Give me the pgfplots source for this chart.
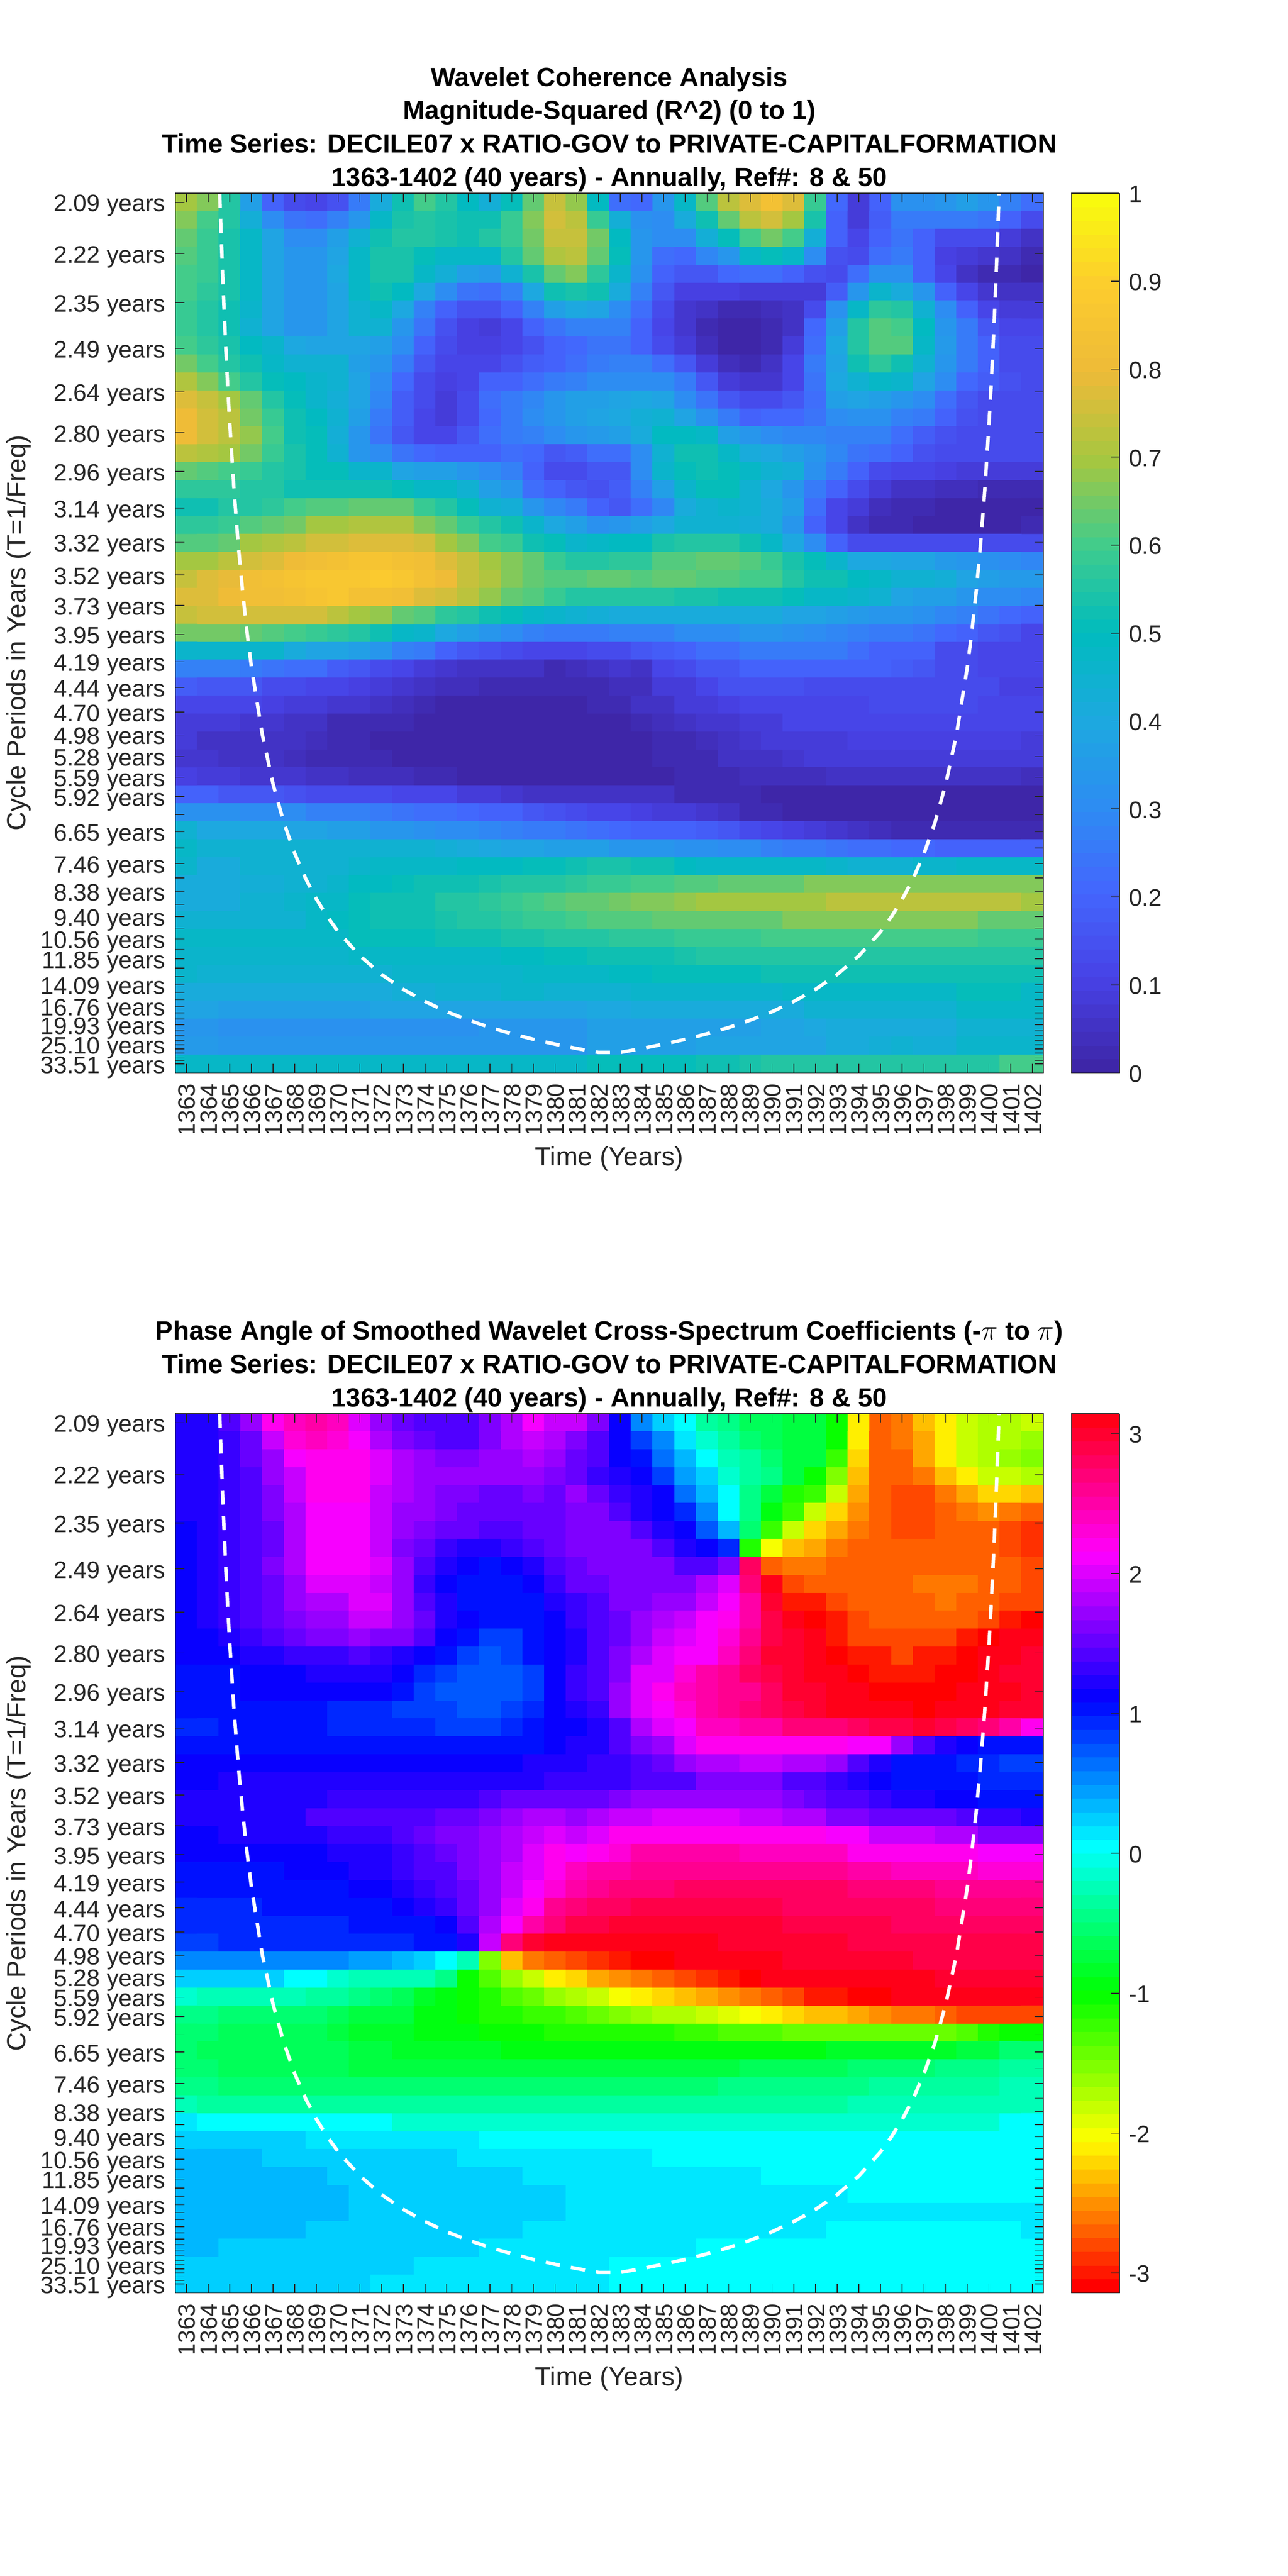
\documentclass[border=0pt]{standalone}
\usepackage{pgfplots}
\pgfplotsset{compat=1.18}
\usepackage{fontspec}
\setmainfont{Liberation Sans}
\definecolor{axc}{gray}{0.15}
\pgfplotsset{
 colormap={myparula}{rgb=(.2422,.1504,.6603) rgb=(.2783,.2559,.8991) rgb=(.265,.40,.993) rgb=(.1764,.5499,.952) rgb=(.1113,.6635,.8763) rgb=(0,.735,.745) rgb=(.25,.80,.55) rgb=(.65,.78,.25) rgb=(.93,.73,.22) rgb=(.99,.80,.18) rgb=(.976,.983,.054)},
 colormap={par64}{samples of colormap=(64 of myparula)},
 colormap={myhsv}{rgb(0pt)=(1,0,0) rgb(32pt)=(1,1,0) rgb(64pt)=(0,1,0) rgb(96pt)=(0,1,1) rgb(128pt)=(0,0,1) rgb(160pt)=(1,0,1) rgb(189pt)=(1,0,.09375)},
 colormap={hsv64}{samples of colormap=(64 of myhsv)},
 heat/.style={
  scale only axis, width=526.5pt, enlargelimits=false, axis on top,
  xmin=0.5, xmax=40.5, ymin=-0.5, ymax=48.5, y dir=reverse,
  colormap access=piecewise constant,
  axis line style={draw=axc,line width=0.5pt},
  tick style={draw=axc,line width=0.5pt},
  tick align=inside, tick pos=both, major tick length=5.4pt, minor tick num=0,
  xtick={1,...,40},
  xticklabels={1363,1364,1365,1366,1367,1368,1369,1370,1371,1372,1373,1374,1375,1376,1377,1378,1379,1380,1381,1382,1383,1384,1385,1386,1387,1388,1389,1390,1391,1392,1393,1394,1395,1396,1397,1398,1399,1400,1401,1402},
  xticklabel pos=lower, yticklabel pos=left,
  xticklabel style={yshift=-6.3pt,xshift=0.4pt,rotate=90,anchor=east,inner sep=0pt,text=axc,font=\fontsize{14.5pt}{14.5pt}\selectfont},
  ytick={0,2.874,5.586,8.146,10.562,12.843,14.996,17.028,18.946,20.756,22.465,24.078,25.6,27.037,28.393,29.673,30.881,32.022,33.098,34.114,35.073,35.978,36.833,37.639,38.4,39.118,39.797,40.437,41.04,41.611,42.149,42.657,43.136,43.589,44.016,44.42,44.8,45.159,45.498,45.818,46.12,46.406,46.674,46.928,47.168,47.394,47.608,47.81,48},
  yticklabels={2.09 years,2.22 years,2.35 years,2.49 years,2.64 years,2.80 years,2.96 years,3.14 years,3.32 years,3.52 years,3.73 years,3.95 years,4.19 years,4.44 years,4.70 years,4.98 years,5.28 years,5.59 years,5.92 years,{},6.65 years,{},7.46 years,{},8.38 years,{},9.40 years,{},10.56 years,{},11.85 years,{},{},14.09 years,{},{},16.76 years,{},{},19.93 years,{},{},{},25.10 years,{},{},{},{},33.51 years},
  yticklabel style={anchor=east,inner sep=0pt,xshift=-6pt,yshift=-2.15pt,text=axc,font=\fontsize{14.5pt}{14.5pt}\selectfont},
 },
 cb/.style={
  colorbar sampled,
  colorbar style={samples=65, width=29.25pt, at={(1.03229,1)}, anchor=north west, scale only axis,
   colormap access=piecewise constant,
   axis line style={draw=axc,line width=0.5pt}, tick style={draw=axc,line width=0.5pt},
   ytick pos=right, yticklabel pos=right, tick align=inside, major tick length=5.2pt,
   yticklabel style={anchor=west,inner sep=0pt,xshift=5.5pt,yshift=-0.6pt,text=axc,font=\fontsize{14.5pt}{14.5pt}\selectfont},
   #1},
 },
}
\newcount\cc \newcount\rr
\def\flatloop#1 {\if;#1\else
  \edef\flatout{\unexpanded\expandafter{\flatout}\the\cc\space\the\rr\space#1\noexpand\\}%
  \advance\cc by 1 \ifnum\cc>40 \cc=1 \advance\rr by 1 \fi
  \expandafter\flatloop\fi}
\def\flatten#1#2{\def\flatout{}\cc=1 \rr=0 \expandafter\flatloop#1; \let#2\flatout}
\def\cohdata{%
70 66 56 36 20 14 12 15 25 42  53 60 55 49 43 50 63 74 68 49  22 21 33 48 62 72 78 83 77 58  21 9 20 32 32 33 36 34 27 22
66 60 55 43 30 24 22 27 33 47  54 56 54 53 52 58 66 75 73 58  43 32 31 42 52 64 73 76 70 54  19 8 18 25 26 26 26 24 19 13
64 58 54 47 38 31 31 36 45 52  56 55 54 53 55 59 65 74 74 65  49 34 30 31 43 50 60 65 60 43  19 12 19 24 19 14 13 13 8 6
62 58 54 47 38 33 33 38 48 54  54 50 48 47 48 55 63 71 72 63  51 34 22 21 29 34 47 50 48 31  15 14 22 25 19 10 8 7 5 3
60 58 54 48 38 33 33 40 48 54  54 48 43 37 35 45 54 63 67 57  46 32 19 16 17 21 22 23 20 15  14 23 32 32 20 11 6 3 3 1
60 57 54 48 38 33 33 39 47 53  49 40 30 24 22 28 40 52 54 52  42 27 16 10 10 10 9 9 8 8  18 33 46 42 33 20 12 7 5 5
58 56 53 46 38 33 34 38 45 47  40 28 20 15 15 19 28 37 40 38  31 22 13 7 5 3 3 4 5 13  32 47 57 55 44 30 19 12 9 9
58 55 53 44 38 33 34 38 44 44  34 24 15 10 9 12 19 24 27 28  28 20 12 7 3 1 1 2 6 21  36 55 61 60 49 34 25 17 12 12
60 57 54 49 46 40 38 38 38 37  30 19 13 10 10 12 15 19 21 24  24 19 14 9 4 1 0 2 8 22  40 55 62 61 48 35 26 19 14 14
65 60 55 53 47 45 44 44 36 33  25 16 11 12 12 15 18 20 23 26  28 27 22 16 8 4 2 5 12 26  39 52 57 53 45 33 26 20 14 14
71 66 60 55 51 49 46 44 38 31  21 14 10 11 19 19 23 25 27 30  30 30 31 26 17 9 7 7 12 24  40 45 47 46 38 30 21 18 15 14
77 74 70 63 55 50 46 43 38 29  18 13 9 13 22 26 29 34 36 36  38 40 39 31 24 17 14 14 17 23  37 38 37 34 30 22 17 14 14 14
81 76 72 65 59 53 49 44 37 26  18 11 9 14 21 25 30 34 37 38  40 43 45 38 32 25 20 21 21 24  30 32 32 28 25 19 15 14 13 13
80 75 72 68 60 53 50 43 33 24  17 11 11 16 22 26 28 31 33 35  36 42 49 49 47 37 33 31 29 29  28 28 27 23 18 15 14 13 14 14
73 71 69 65 58 54 50 45 33 30  24 21 19 19 20 22 21 17 18 23  22 31 44 52 52 47 42 40 36 33  29 24 22 19 15 14 13 13 13 13
63 62 60 58 55 54 51 50 46 46  39 37 36 33 30 28 20 14 13 16  17 31 46 51 53 50 47 44 43 32  25 20 14 12 12 10 9 9 9 9
57 57 57 56 56 52 53 53 53 52  50 48 48 45 37 33 22 19 16 15  18 27 37 46 51 50 45 40 34 26  19 13 8 6 6 4 4 3 2 2
53 53 55 56 57 60 62 62 63 63  63 58 55 50 45 43 33 29 25 20  17 22 29 42 45 46 44 42 36 22  12 8 4 2 2 1 1 0 0 0
57 57 59 62 64 65 69 69 71 71  71 67 63 59 55 52 46 40 37 32  34 37 40 44 45 45 43 41 33 20  12 6 3 2 1 1 1 1 1 3
62 61 63 69 71 73 76 76 77 77  77 75 70 67 60 58 52 51 46 47  49 49 54 55 55 55 53 47 40 31  20 14 14 13 13 13 14 14 14 14
70 70 73 76 77 80 82 84 85 85  84 82 78 74 70 66 63 59 56 56  57 57 61 61 63 63 62 58 54 50  46 40 40 39 38 35 33 32 30 29
74 78 79 82 84 85 86 86 87 88  87 84 80 74 71 67 64 62 62 64  63 62 63 63 62 62 60 60 55 53  52 49 48 45 44 43 39 37 35 35
78 78 80 82 82 84 85 86 83 83  82 78 75 72 68 64 61 58 56 55  55 55 55 54 54 53 53 52 50 48  47 46 44 38 37 36 34 31 30 29
74 76 76 75 75 75 75 73 70 68  64 61 57 55 52 50 47 46 45 43  42 42 42 42 42 42 42 41 39 38  36 35 34 33 32 29 27 24 21 19
65 65 65 63 62 60 58 57 55 53  48 46 40 36 33 30 27 26 25 26  27 27 27 30 31 30 33 34 32 31  29 27 25 25 24 21 20 17 15 12
46 46 46 46 46 42 39 38 36 33  27 25 20 17 15 14 12 12 11 13  14 16 18 20 22 22 25 25 25 25  25 22 20 20 19 14 14 12 12 11
28 27 27 25 24 22 22 18 17 13  11 8 7 6 5 5 5 3 4 5  7 5 12 14 17 17 19 19 20 20  20 19 19 18 17 14 13 12 12 12
18 17 17 16 14 13 12 11 10 8  7 5 4 4 3 2 2 2 2 3  4 4 8 9 12 15 15 15 15 14  14 13 13 13 13 13 13 13 10 10
12 12 12 12 10 9 8 7 7 5  4 3 1 1 0 0 0 0 1 2  2 5 5 8 9 10 11 11 12 12  12 12 13 13 13 13 13 12 12 12
8 8 8 7 7 6 5 3 3 2  2 1 1 0 0 0 0 0 1 1  1 3 4 5 7 7 9 9 11 11  11 11 12 12 12 12 12 12 12 12
8 6 6 5 5 5 4 3 2 1  0 0 0 0 0 0 0 0 0 0  1 1 3 3 4 6 7 8 8 9  9 10 10 10 10 10 10 10 10 9
7 7 5 5 5 4 3 2 2 2  1 0 0 0 0 0 0 0 0 0  0 0 2 3 3 5 6 6 7 8  8 8 8 8 9 9 9 9 8 8
10 9 9 7 7 7 5 5 4 4  4 3 3 1 1 1 1 0 0 0  0 0 0 2 3 3 4 4 4 4  5 6 6 6 6 6 6 6 6 4
20 19 17 16 16 15 14 14 13 13  12 11 11 9 8 7 6 5 5 6  5 5 5 2 2 2 2 1 1 1  1 1 1 1 1 1 1 1 0 0
32 32 32 30 30 30 27 27 27 25  24 23 22 21 20 19 17 15 13 12  12 10 9 8 7 5 3 2 1 1  1 0 0 0 0 0 0 0 0 0
45 40 40 40 40 38 38 37 36 34  33 32 31 30 29 28 26 26 24 23  21 20 20 19 18 17 14 12 10 9  7 5 4 3 3 3 3 3 3 3
47 45 45 45 45 45 45 45 45 45  45 44 43 41 40 38 38 37 36 36  34 33 33 32 32 30 30 28 26 25  24 22 22 21 21 20 20 20 20 20
46 42 42 44 45 45 45 45 46 47  47 48 48 49 49 49 50 51 52 54  54 53 52 49 48 47 47 47 47 47  46 45 45 45 46 46 47 48 48 48
42 41 41 43 43 44 45 46 49 49  50 52 53 53 54 55 55 55 57 58  58 60 60 62 62 64 64 64 64 67  67 67 67 67 67 67 67 67 67 67
42 42 42 44 44 46 47 48 51 52  52 53 55 56 57 58 60 61 63 64  65 66 67 68 69 69 69 70 70 70  72 72 72 72 72 72 72 72 72 70
45 45 45 45 45 45 47 49 51 52  52 53 54 55 55 57 58 59 60 61  62 62 63 63 64 64 64 64 66 66  66 66 66 66 66 66 66 64 64 64
47 47 47 47 47 47 47 48 50 50  51 51 52 53 53 54 54 55 55 56  57 57 57 58 58 58 58 60 60 60  60 60 60 60 60 60 60 58 58 58
46 46 46 46 46 46 46 46 47 47  47 47 47 47 48 49 49 50 51 52  52 52 52 54 55 55 55 56 56 56  56 56 56 56 56 56 56 55 55 55
46 44 44 44 44 44 44 44 45 45  46 46 46 46 46 46 47 47 48 48  49 49 50 50 50 50 50 52 52 52  52 52 52 52 52 52 52 52 52 52
42 42 42 42 42 42 42 42 42 42  43 43 44 45 45 46 46 45 45 44  45 46 46 46 46 46 46 46 47 47  48 48 48 48 48 48 50 50 50 48
38 38 36 36 36 36 36 36 37 38  38 38 38 38 38 38 38 39 39 40  40 41 41 41 41 41 41 41 42 45  45 45 45 45 45 45 47 47 47 47
34 34 32 32 32 32 32 32 32 32  32 32 32 32 33 33 33 33 33 36  37 37 37 37 37 37 37 38 39 40  42 42 42 42 42 42 44 45 45 45
35 35 34 34 34 34 34 34 34 34  34 34 34 34 34 34 34 34 34 37  37 37 37 37 38 38 39 39 39 39  41 41 43 44 43 43 46 46 46 46
47 47 47 47 47 47 47 47 47 47  47 47 47 47 47 47 47 47 48 50  50 50 50 50 53 53 54 55 56 56  56 56 56 56 56 56 56 56 60 60
}
\def\phasedata{%
12 12 14 17 22 24 25 24 20 17  15 14 14 14 16 18 21 19 19 16  11 5 2 0 -3 -4 -6 -6 -7 -7  -10 -21 -27 -26 -23 -21 -18 -17 -17 -18
12 12 13 15 19 23 24 23 21 18  16 15 14 14 16 18 19 18 16 14  11 8 5 1 -1 -3 -5 -6 -7 -7  -10 -21 -27 -26 -24 -21 -18 -17 -17 -16
12 12 13 15 17 21 22 22 22 20  18 17 16 16 17 17 18 17 15 14  11 10 6 3 0 -2 -3 -5 -7 -7  -12 -22 -27 -27 -24 -21 -18 -17 -16 -15
12 12 13 14 17 19 22 22 22 20  18 17 17 17 17 17 17 16 15 13  12 11 8 4 2 -1 -3 -4 -7 -10  -15 -23 -27 -27 -26 -23 -21 -18 -18 -17
12 12 13 14 16 19 22 22 22 19  18 17 16 16 15 15 16 15 17 15  13 12 11 6 3 0 -4 -7 -11 -12  -18 -24 -27 -28 -28 -26 -24 -22 -22 -23
12 12 13 14 16 18 21 21 21 19  17 17 16 15 15 15 15 15 16 16  14 12 11 9 5 0 -4 -9 -12 -18  -22 -25 -27 -28 -28 -27 -26 -25 -26 -27
11 12 13 14 15 18 21 21 21 19  17 16 15 15 14 14 15 15 16 16  16 14 12 11 7 3 -5 -12 -18 -22  -24 -26 -27 -28 -28 -27 -27 -27 -28 -29
11 12 13 14 15 18 21 21 21 19  16 15 13 12 12 13 14 15 16 16  16 16 14 12 11 9 -11 -20 -23 -24  -26 -27 -27 -27 -27 -27 -27 -27 -28 -29
11 12 13 14 16 18 21 21 21 20  17 14 12 11 10 11 12 14 15 16  16 16 16 14 14 16 28 -27 -26 -26  -27 -27 -27 -27 -27 -27 -27 -27 -27 -28
11 12 13 14 15 17 20 20 20 19  17 13 11 10 10 10 11 13 15 15  16 16 16 16 18 20 27 31 -28 -27  -27 -27 -27 -27 -26 -26 -26 -27 -27 -28
11 12 13 14 15 17 18 18 20 20  17 14 12 10 10 10 10 12 13 14  16 16 17 17 19 21 25 30 -30 -30  -28 -27 -27 -27 -27 -26 -27 -27 -28 -28
11 12 13 14 15 16 17 17 19 19  17 15 12 11 10 10 10 11 13 14  15 17 18 19 21 22 25 29 31 -31  -30 -28 -27 -27 -27 -27 -27 -28 -30 -31
11 11 12 13 14 15 16 16 17 16  16 14 11 10 8 8 10 11 12 14  15 17 19 20 21 23 26 29 30 31  -30 -28 -28 -28 -28 -28 -30 -31 31 31
11 11 11 12 12 13 13 13 14 13  12 11 10 8 7 8 10 11 12 14  16 18 20 21 21 24 27 30 30 31  -31 -30 -30 -28 -30 -30 -31 31 31 30
10 10 10 11 11 11 12 12 12 12  11 9 8 7 7 7 8 11 13 14  16 20 20 23 25 26 28 29 30 31  31 -31 -30 -30 -30 -31 -31 31 30 30
10 10 10 11 11 11 11 11 11 11  10 8 7 7 7 7 8 11 13 14  17 20 22 24 25 26 26 28 30 30  31 31 -31 -31 -31 -31 31 31 31 30
10 10 10 10 10 10 10 9 9 9  8 8 8 7 7 8 9 11 12 13  17 20 21 23 25 26 27 28 29 30  31 31 31 31 -31 31 31 31 30 30
9 9 10 10 10 10 10 9 9 9  9 9 8 8 8 9 10 11 11 12  14 18 20 21 24 24 25 25 27 27  27 28 29 29 30 29 28 27 25 22
10 10 10 10 10 10 10 10 10 10  10 10 10 10 10 10 10 11 12 12  14 16 17 20 22 22 22 22 22 22  22 21 21 17 14 12 11 10 10 10
11 11 11 11 11 11 11 11 11 11  11 11 11 11 11 11 12 12 12 13  13 14 15 17 18 18 19 19 18 18  17 14 12 10 10 10 9 9 8 8
11 11 12 12 12 12 12 12 12 12  12 12 12 12 12 12 12 13 13 13  13 14 14 14 16 16 16 16 14 14  13 12 11 10 10 10 10 9 9 9
12 12 12 12 12 12 12 13 13 13  13 13 13 13 14 15 15 15 15 15  16 17 17 17 17 17 17 17 16 15  14 14 13 12 12 11 11 10 10 10
12 12 12 12 12 12 14 14 14 14  14 14 15 15 16 17 18 18 17 18  19 19 20 20 20 20 19 19 18 18  16 16 15 15 15 15 14 13 13 12
11 11 12 12 12 12 12 13 13 13  14 15 16 16 17 18 19 20 19 20  22 22 22 22 22 22 22 22 22 22  21 21 19 19 19 18 18 16 16 16
11 11 11 11 11 11 11 12 12 12  13 14 15 16 17 18 20 22 21 22  23 25 25 25 25 25 24 24 24 24  24 22 22 22 22 22 22 21 21 21
10 10 10 10 10 11 11 11 12 12  13 14 14 16 17 19 20 22 24 25  25 26 26 26 26 26 26 26 26 26  26 25 25 24 24 24 24 23 23 23
10 10 10 10 10 10 10 10 11 11  12 13 14 15 17 19 21 23 25 26  27 27 27 28 28 28 28 28 28 28  28 27 27 27 27 26 26 26 26 26
9 9 9 9 10 10 10 10 10 10  11 12 13 15 17 20 22 26 27 28  28 29 29 29 29 29 29 29 28 28  28 28 28 28 28 27 27 27 27 27
9 9 9 9 9 9 9 9 10 10  10 10 11 14 18 21 25 27 29 29  30 30 30 30 30 30 30 30 29 29  29 29 29 28 28 28 28 28 28 28
8 8 9 9 9 9 9 9 9 9  9 10 10 12 19 27 30 31 31 31  31 31 31 31 31 30 30 30 30 30  30 29 29 29 29 29 29 29 29 29
5 5 5 5 5 5 5 5 4 4  3 2 0 -2 -15 -23 -26 -27 -28 -29  -30 -31 -31 31 31 31 31 31 30 30  30 30 30 30 29 29 29 29 29 29
2 2 2 2 2 0 0 -1 -2 -2  -2 -2 -4 -10 -13 -16 -18 -21 -22 -24  -25 -26 -27 -28 -29 -30 -31 31 31 31  31 31 31 31 31 30 30 30 30 30
-1 -2 -2 -2 -2 -2 -3 -3 -4 -5  -6 -8 -9 -10 -11 -13 -14 -16 -17 -18  -20 -21 -22 -23 -24 -25 -26 -27 -28 -30  -30 -31 -31 31 31 31 31 31 31 31
-4 -4 -5 -5 -5 -5 -5 -6 -7 -7  -7 -9 -9 -10 -11 -11 -12 -12 -13 -14  -15 -16 -17 -17 -18 -19 -20 -21 -22 -23  -23 -24 -25 -26 -26 -27 -28 -28 -28 -28
-5 -5 -6 -6 -6 -6 -6 -7 -8 -8  -8 -9 -9 -9 -10 -10 -10 -11 -11 -11  -11 -11 -11 -12 -12 -13 -13 -13 -14 -14  -14 -14 -14 -14 -14 -14 -13 -11 -10 -10
-5 -6 -6 -6 -6 -6 -6 -6 -7 -7  -8 -8 -8 -8 -8 -9 -9 -9 -9 -9  -9 -9 -9 -9 -9 -9 -9 -9 -9 -9  -8 -8 -8 -8 -8 -8 -7 -7 -5 -5
-5 -5 -6 -6 -6 -6 -6 -6 -7 -7  -7 -7 -7 -7 -7 -7 -7 -7 -7 -7  -7 -7 -7 -7 -7 -7 -6 -6 -6 -6  -6 -5 -5 -5 -5 -4 -4 -4 -3 -3
-4 -4 -5 -5 -5 -5 -5 -5 -5 -5  -5 -5 -5 -5 -5 -5 -5 -5 -5 -5  -5 -5 -5 -5 -5 -4 -4 -4 -4 -4  -4 -4 -3 -3 -3 -3 -3 -3 -2 -2
-2 -3 -3 -3 -3 -3 -3 -3 -3 -3  -3 -3 -3 -3 -3 -3 -3 -3 -3 -3  -3 -3 -3 -3 -3 -3 -3 -3 -3 -3  -3 -2 -2 -2 -2 -2 -2 -2 -2 -2
1 0 0 0 0 0 0 0 0 0  -1 -1 -1 -1 -1 -1 -1 -1 -1 -1  -1 -1 -1 -1 -1 -1 -1 -1 -1 -1  -1 -1 -1 -1 -1 -1 -1 -1 0 0
2 2 2 2 2 2 1 1 1 1  1 1 1 1 0 0 0 0 0 0  0 0 0 0 0 0 0 0 0 0  0 0 0 0 0 0 0 0 0 0
3 3 3 3 2 2 2 2 2 2  2 2 2 1 1 1 1 1 1 1  1 1 0 0 0 0 0 0 0 0  0 0 0 0 0 0 0 0 0 0
3 3 3 3 3 3 3 2 2 2  2 2 2 2 2 2 1 1 1 1  1 1 1 1 1 1 1 0 0 0  0 0 0 0 0 0 0 0 0 0
3 3 3 3 3 3 3 3 2 2  2 2 2 2 2 2 2 2 1 1  1 1 1 1 1 1 1 1 1 1  1 0 0 0 0 0 0 0 0 0
3 3 3 3 3 3 3 3 2 2  2 2 2 2 2 2 2 2 1 1  1 1 1 1 1 1 1 1 1 1  1 1 1 1 1 1 1 1 1 1
3 3 3 3 3 3 2 2 2 2  2 2 2 2 2 2 1 1 1 1  1 1 1 1 1 1 1 1 1 1  0 0 0 0 0 0 0 0 0 1
3 3 2 2 2 2 2 2 2 2  2 2 2 2 1 1 1 1 1 1  1 1 1 1 0 0 0 0 0 0  0 0 0 0 0 0 0 0 0 0
2 2 2 2 2 2 2 2 2 2  2 1 1 1 1 1 1 1 1 1  0 0 0 0 0 0 0 0 0 0  0 0 0 0 0 0 0 0 0 0
2 2 2 2 2 2 2 2 2 1  1 1 1 1 1 1 1 1 1 1  0 0 0 0 0 0 0 0 0 0  0 0 0 0 0 0 0 0 0 0
}
\flatten\cohdata\cohflat
\flatten\phasedata\phaseflat
\def\plotC#1{\addplot[matrix plot*,mesh/cols=40,point meta=explicit] table[format=inline,row sep=\\,header=false,x index=0,y index=1,meta expr=\thisrowno{2}/100] {#1};}
\def\plotP#1{\addplot[matrix plot*,mesh/cols=40,point meta=explicit] table[format=inline,row sep=\\,header=false,x index=0,y index=1,meta expr=\thisrowno{2}/10] {#1};}
\def\coi{\addplot[white,line width=2.1pt,dash pattern=on 8.75pt off 6.75pt,no markers] coordinates {
(2.536,-0.5)(2.6,1.74)(2.7,4.9)(2.8,7.68)(2.9,10.14)(3,12.33)(3.2,16.1)(3.4,19.2)(3.6,21.79)(3.8,24)(4,25.89)(4.5,29.65)(5,32.43)(5.5,34.59)(6,36.29)(6.5,37.68)(7,38.83)(7.5,39.8)(8,40.64)(9,41.98)(10,43.02)(11,43.85)(12,44.52)(13,45.09)(14,45.56)(15,45.97)(16,46.32)(17,46.63)(18,46.9)(19,47.14)(20,47.36)(21,47.36)(22,47.14)(23,46.9)(24,46.63)(25,46.32)(26,45.97)(27,45.56)(28,45.09)(29,44.52)(30,43.85)(31,43.02)(32,41.98)(33,40.64)(33.5,39.8)(34,38.83)(34.5,37.68)(35,36.29)(35.5,34.59)(36,32.43)(36.5,29.65)(37,25.89)(37.2,24)(37.4,21.79)(37.6,19.2)(37.8,16.1)(38,12.33)(38.1,10.14)(38.2,7.68)(38.3,4.9)(38.4,1.74)(38.464,-0.5)};}
\begin{document}
\begin{tikzpicture}
\path[use as bounding box] (0,0) rectangle (781.25pt,1563pt);
\begin{axis}[heat, at={(106.5pt,912pt)}, anchor=south west, height=533.75pt,
  colormap name=par64, point meta min=0, point meta max=1,
  cb={height=533.75pt, ytick={0,0.1,0.2,0.3,0.4,0.5,0.6,0.7,0.8,0.9,1}, yticklabels={0,0.1,0.2,0.3,0.4,0.5,0.6,0.7,0.8,0.9,1}}]
\expandafter\plotC\expandafter{\cohflat}
\coi
\end{axis}
\begin{axis}[heat, at={(106.5pt,171.75pt)}, anchor=south west, height=533.5pt,
  colormap name=hsv64, point meta min=-3.14159, point meta max=3.14159,
  cb={height=533.5pt, ytick={-3,-2,-1,0,1,2,3}, yticklabels={-3,-2,-1,0,1,2,3}}]
\expandafter\plotP\expandafter{\phaseflat}
\coi
\end{axis}
% the year labels of the reference are cut off at a fixed distance below the axis
\fill[white] (100pt,875.5pt) rectangle (640pt,869.25pt);
\fill[white] (100pt,135pt) rectangle (640pt,128.75pt);
\def\ttl{\bfseries\fontsize{15.95pt}{15.95pt}\selectfont}
\node[anchor=base] at (369.75pt,1510.75pt) {\ttl Wavelet Coherence Analysis};
\node[anchor=base] at (369.75pt,1490.5pt) {\ttl Magnitude-Squared (R\textasciicircum 2) (0 to 1)};
\node[anchor=base] at (369.75pt,1470.25pt) {\ttl Time Series: DECILE07 x RATIO-GOV to PRIVATE-CAPITALFORMATION};
\node[anchor=base] at (369.75pt,1450pt) {\ttl 1363-1402 (40 years) - Annually, Ref\#: 8 \& 50};
\node[anchor=base] at (369.75pt,750pt) {\ttl Phase Angle of Smoothed Wavelet Cross-Spectrum Coefficients (-$\pi$ to $\pi$)};
\node[anchor=base] at (369.75pt,729.75pt) {\ttl Time Series: DECILE07 x RATIO-GOV to PRIVATE-CAPITALFORMATION};
\node[anchor=base] at (369.75pt,709.5pt) {\ttl 1363-1402 (40 years) - Annually, Ref\#: 8 \& 50};
\def\xl{\fontsize{15.95pt}{15.95pt}\selectfont}
\node[anchor=base,text=axc] at (369.75pt,855.75pt) {\xl Time (Years)};
\node[anchor=base,text=axc] at (369.75pt,115.5pt) {\xl Time (Years)};
\node[anchor=base,rotate=90,text=axc] at (15.5pt,1179pt) {\xl Cycle Periods in Years (T=1/Freq)};
\node[anchor=base,rotate=90,text=axc] at (15.5pt,438.5pt) {\xl Cycle Periods in Years (T=1/Freq)};
\end{tikzpicture}
\end{document}
